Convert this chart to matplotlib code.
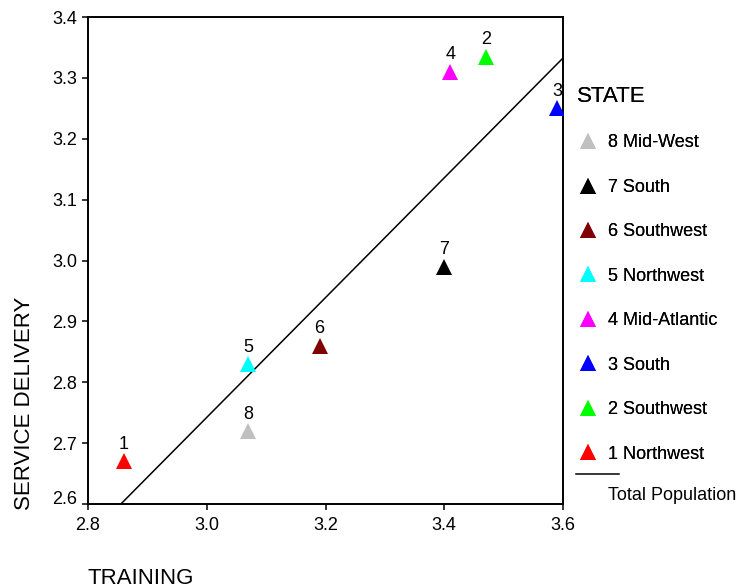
import numpy as np
import matplotlib
matplotlib.use("Agg")
import matplotlib.pyplot as plt
from matplotlib.lines import Line2D
from matplotlib.transforms import ScaledTranslation

plt.rcParams["font.family"] = ["Liberation Sans", "DejaVu Sans"]

# state means: training score vs service delivery score
state_ids = [1, 2, 3, 4, 5, 6, 7, 8]
state_names = ["Northwest", "Southwest", "South", "Mid-Atlantic",
               "Northwest", "Southwest", "South", "Mid-West"]
training = [2.86, 3.47, 3.59, 3.41, 3.07, 3.19, 3.40, 3.07]
service = [2.67, 3.335, 3.25, 3.31, 2.83, 2.86, 2.99, 2.72]
colors = ["#ff0000", "#00ff00", "#0000ff", "#ff00ff",
          "#00ffff", "#800000", "#000000", "#c0c0c0"]

x_ticks = [2.8, 3.0, 3.2, 3.4, 3.6]
y_ticks = [2.6, 2.7, 2.8, 2.9, 3.0, 3.1, 3.2, 3.3, 3.4]

fig = plt.figure(figsize=(7.37, 5.88), dpi=100)
ax = fig.add_axes([88 / 737, 1 - 504 / 588, 475 / 737, 487 / 588])

handles = []
for sid, name, x, y, c in zip(state_ids, state_names, training, service, colors):
    ax.plot(x, y, "^", color=c, markersize=11, markeredgewidth=0, zorder=3)
    ax.annotate(str(sid), (x, y), xytext=(0, 6), textcoords="offset points",
                ha="center", va="bottom", fontsize=13)
    handles.append(Line2D([], [], marker="^", color=c, linestyle="none",
                          markersize=11, markeredgewidth=0,
                          label=f"{sid} {name}"))

# least squares fit over all states
slope, icpt = np.polyfit(training, service, 1)
xs = np.array([2.8, 3.6])
ax.plot(xs, icpt + slope * xs, color="black", lw=1.1, zorder=2)

ax.set_xlim(2.8, 3.6)
ax.set_ylim(2.6, 3.4)
ax.set_xticks(x_ticks)
ax.set_xticklabels([f"{v:.1f}" for v in x_ticks])
ax.set_yticks(y_ticks)
ax.set_yticklabels([f"{v:.1f}" for v in y_ticks])
ax.tick_params(direction="out", length=4.5, width=1.1, labelsize=13)
ax.tick_params(axis="x", pad=5)
ax.tick_params(axis="y", pad=3.5)
for s in ax.spines.values():
    s.set_linewidth(1.4)

# lift the bottom y label off the x axis
lab = ax.get_yticklabels()[0]
lab.set_transform(lab.get_transform() + ScaledTranslation(0, 7 / 100, fig.dpi_scale_trans))

fig.text(88 / 737, 1 - 578 / 588, "TRAINING", ha="left", va="center", fontsize=16)
fig.text(25 / 737, 1 - 510 / 588, "SERVICE DELIVERY", rotation=90,
         ha="center", va="bottom", fontsize=16)

leg = ax.legend(handles=handles[::-1], title="STATE", loc="upper left",
                bbox_to_anchor=(577 / 737, 1 - 86 / 588),
                bbox_transform=fig.transFigure, frameon=False,
                fontsize=13, title_fontsize=16, alignment="left",
                labelspacing=1.52, handletextpad=0.5, handlelength=1.2,
                borderaxespad=0, borderpad=0)
leg._legend_handle_box.sep = 16
ax.add_artist(leg)

fig.add_artist(Line2D([576 / 737, 619 / 737], [1 - 474 / 588, 1 - 474 / 588],
                      color="black", lw=1.1))
fig.text(608 / 737, 1 - 495 / 588, "Total Population", ha="left", va="center",
         fontsize=13)

fig.savefig("out.png", dpi=100)
